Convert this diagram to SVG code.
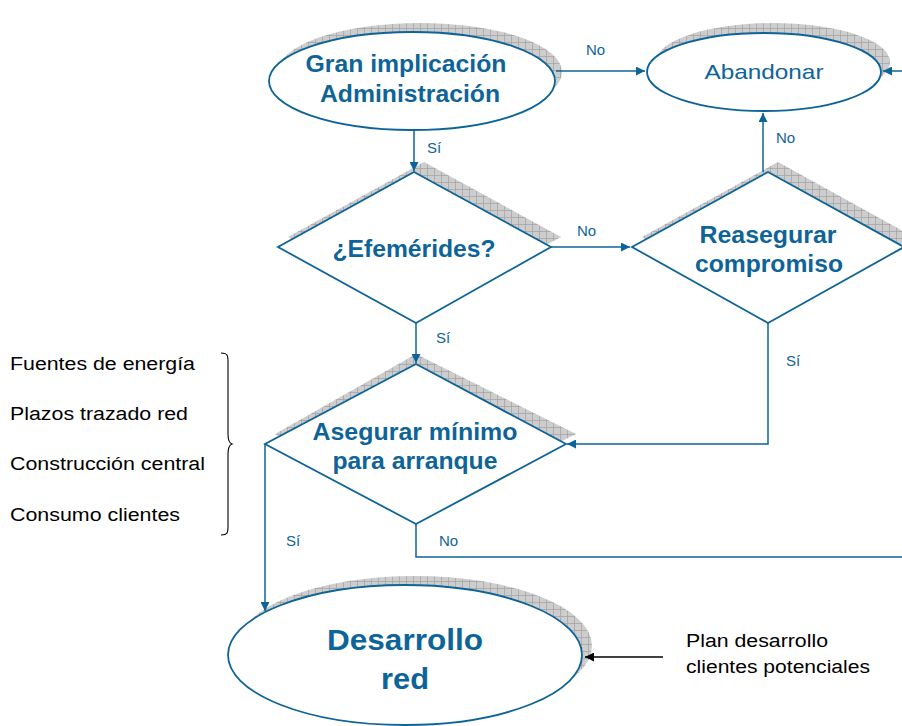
<svg xmlns="http://www.w3.org/2000/svg" width="902" height="726" viewBox="0 0 902 726">
<defs>
<pattern id="hatch" width="7" height="7" patternUnits="userSpaceOnUse">
<rect width="7" height="7" fill="#cdcdcd"/>
<path d="M0 0.5H7M0.5 0V7" stroke="#a0a0a0" stroke-width="0.7"/>
</pattern>
<marker id="ah" viewBox="0 0 10 10" refX="10" refY="5" markerWidth="10" markerHeight="9" markerUnits="userSpaceOnUse" orient="auto">
<path d="M0 0L10 5L0 10Z" fill="#0e6498"/>
</marker>
<marker id="ahk" viewBox="0 0 10 10" refX="10" refY="5" markerWidth="10" markerHeight="9" markerUnits="userSpaceOnUse" orient="auto">
<path d="M0 0L10 5L0 10Z" fill="#000"/>
</marker>
</defs>
<style>
.shape{fill:#fff;stroke:#0e6498;stroke-width:1.8}
.shadow{fill:url(#hatch)}
.t{font-family:"Liberation Sans",Arial,sans-serif;fill:#0e6498;text-anchor:middle}
.b{font-weight:bold}
.lbl{font-family:"Liberation Sans",Arial,sans-serif;fill:#0e6498;font-size:15px}
.side{font-family:"Liberation Sans",Arial,sans-serif;fill:#000;font-size:18px}
.c{fill:none;stroke:#0e6498;stroke-width:1.5}
</style>
<g id="gran">
<ellipse class="shadow" cx="420" cy="72" rx="142" ry="49"/>
<ellipse class="shape" cx="412" cy="81" rx="143" ry="49"/>
<text class="t b" x="406" y="72" font-size="24" textLength="201" lengthAdjust="spacingAndGlyphs">Gran implicación</text>
<text class="t b" x="410" y="102" font-size="24" textLength="180" lengthAdjust="spacingAndGlyphs">Administración</text>
</g>
<g id="abandonar">
<ellipse class="shadow" cx="773" cy="62" rx="117" ry="39"/>
<ellipse class="shape" cx="764" cy="72" rx="117" ry="39"/>
<text class="t" x="764" y="79" font-size="21" textLength="119" lengthAdjust="spacingAndGlyphs">Abandonar</text>
</g>
<g id="efemerides">
<polygon class="shadow" points="424,162 561,237 424,312 288,237"/>
<polygon class="shape" points="414,172 551,247 416,323 278,247"/>
<text class="t b" x="414" y="257" font-size="24" textLength="163" lengthAdjust="spacingAndGlyphs">¿Efemérides?</text>
</g>
<g id="reasegurar">
<polygon class="shadow" points="778,162 914,237 778,312 642,237"/>
<polygon class="shape" points="768,172 904,247 768,323 632,247"/>
<text class="t b" x="768" y="243" font-size="24" textLength="137" lengthAdjust="spacingAndGlyphs">Reasegurar</text>
<text class="t b" x="769" y="272" font-size="24" textLength="148" lengthAdjust="spacingAndGlyphs">compromiso</text>
</g>
<g id="asegurar">
<polygon class="shadow" points="416,354 576,434 416,514 275,434"/>
<polygon class="shape" points="416,364 566,444 416,524 265,444"/>
<text class="t b" x="415" y="440" font-size="24" textLength="205" lengthAdjust="spacingAndGlyphs">Asegurar mínimo</text>
<text class="t b" x="415" y="469" font-size="24" textLength="165" lengthAdjust="spacingAndGlyphs">para arranque</text>
</g>
<g id="desarrollo">
<ellipse class="shadow" cx="415" cy="646" rx="177" ry="70"/>
<ellipse class="shape" cx="405" cy="655" rx="177" ry="70"/>
<text class="t b" x="405" y="650" font-size="30" textLength="156" lengthAdjust="spacingAndGlyphs">Desarrollo</text>
<text class="t b" x="405" y="689" font-size="30" textLength="48" lengthAdjust="spacingAndGlyphs">red</text>
</g>
<g id="plan">
<text class="side" x="686" y="647" font-size="17" textLength="142" lengthAdjust="spacingAndGlyphs">Plan desarrollo</text>
<text class="side" x="686" y="673" font-size="17" textLength="184" lengthAdjust="spacingAndGlyphs">clientes potenciales</text>
</g>
<g id="factores">
<text class="side" x="10" y="370" textLength="185" lengthAdjust="spacingAndGlyphs">Fuentes de energía</text>
<text class="side" x="10" y="420" textLength="178" lengthAdjust="spacingAndGlyphs">Plazos trazado red</text>
<text class="side" x="10" y="470" textLength="195" lengthAdjust="spacingAndGlyphs">Construcción central</text>
<text class="side" x="10" y="521" textLength="170" lengthAdjust="spacingAndGlyphs">Consumo clientes</text>
<path d="M221 353C228 353 228 356 228 362V434C228 440 229 443 232 444C229 445 228 448 228 454V526C228 532 228 535 221 535" fill="none" stroke="#000" stroke-width="1.1"/>
</g>
<g id="connectors">
<path class="c" d="M414 130V171" marker-end="url(#ah)"/>
<path class="c" d="M556 71H645" marker-end="url(#ah)"/>
<path class="c" d="M902 71H883" marker-end="url(#ah)"/>
<path class="c" d="M551 247H630" marker-end="url(#ah)"/>
<path class="c" d="M763 172V113" marker-end="url(#ah)"/>
<path class="c" d="M416 323V363" marker-end="url(#ah)"/>
<path class="c" d="M768 323V444H567" marker-end="url(#ah)"/>
<path class="c" d="M416 524V557H902"/>
<path class="c" d="M265 444V611" marker-end="url(#ah)"/>
<path d="M663 657H585" fill="none" stroke="#000" stroke-width="1.3" marker-end="url(#ahk)"/>
<text class="lbl" x="586" y="55">No</text>
<text class="lbl" x="427" y="153">Sí</text>
<text class="lbl" x="577" y="236">No</text>
<text class="lbl" x="776" y="143">No</text>
<text class="lbl" x="436" y="343">Sí</text>
<text class="lbl" x="786" y="366">Sí</text>
<text class="lbl" x="439" y="546">No</text>
<text class="lbl" x="286" y="546">Sí</text>
</g>
</svg>
